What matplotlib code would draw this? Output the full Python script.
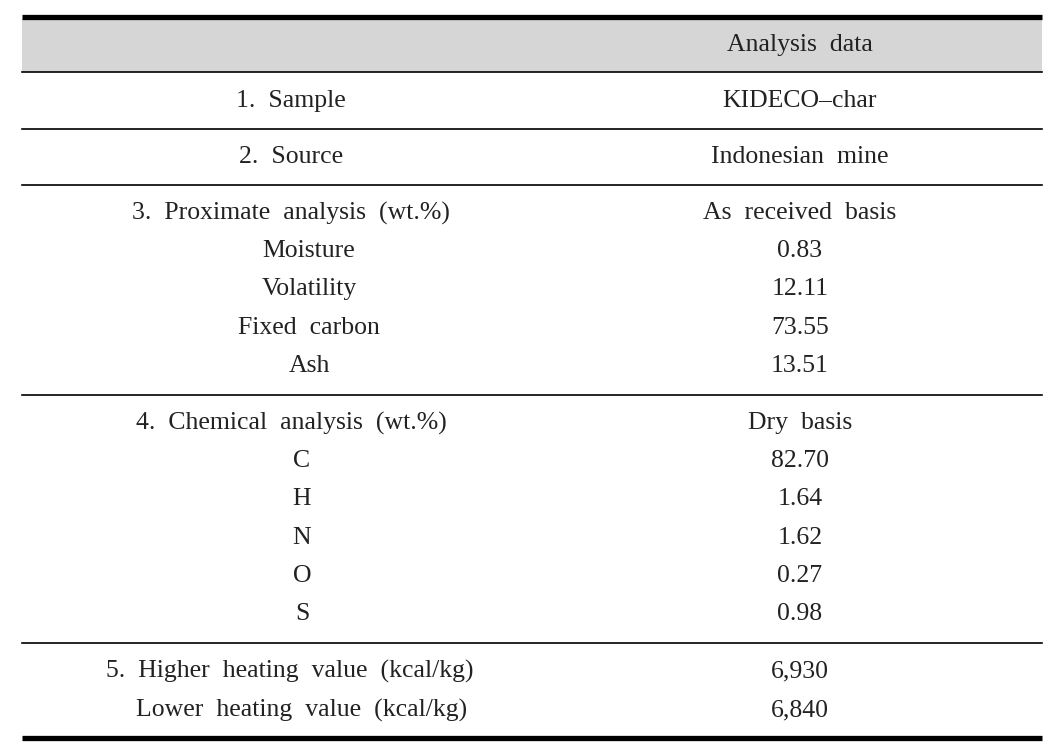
import matplotlib
matplotlib.use("Agg")
import matplotlib.pyplot as plt
from matplotlib.patches import Rectangle

plt.rcParams["font.family"] = ["Liberation Serif", "DejaVu Serif"]

# Table content
HEADER = "Analysis  data"
GROUP_TITLES = [
    "1.  Sample",
    "2.  Source",
    "3.  Proximate  analysis  (wt.%)",
    "4.  Chemical  analysis  (wt.%)",
    "5.  Higher  heating  value  (kcal/kg)",
]
GROUP_VALUES = [
    "KIDECO\u2013char",
    "Indonesian  mine",
    "As  received  basis",
    "Dry  basis",
    "6,930",
]
PROX_ITEMS = ["Moisture", "Volatility", "Fixed  carbon", "Ash"]
PROX_VALUES = ["0.83", "12.11", "73.55", "13.51"]
CHEM_ITEMS = ["C", "H", "N", "O", "S"]
CHEM_VALUES = ["82.70", "1.64", "1.62", "0.27", "0.98"]
LHV_ITEM = "Lower  heating  value  (kcal/kg)"
LHV_VALUE = "6,840"

W, H = 1048, 754
fig = plt.figure(figsize=(W / 100, H / 100), dpi=100)
ax = fig.add_axes([0, 0, 1, 1])
ax.set_xlim(0, W)
ax.set_ylim(H, 0)
ax.axis("off")

X0, X1 = 22, 1042
XL, XR = 300, 800
FS = 18.5
TC = "#222222"

# header band and rules
ax.add_patch(Rectangle((X0, 18), X1 - X0, 54, color="#d6d6d6", lw=0))
ax.plot([X0, X1], [16.5, 16.5], color="black", lw=3.8, solid_capstyle="butt")
ax.plot([X0, X1], [738, 738], color="black", lw=3.8, solid_capstyle="butt")
for y in [72, 129, 185, 395, 643]:
    ax.plot([X0, X1], [y, y], color="black", lw=1.2)

def txt(x, y, s):
    ax.text(x, y + 2, s, ha="center", va="center", fontsize=FS, color=TC)

txt(XR, 43, HEADER)

# single-line groups
txt(XL - 9, 99, GROUP_TITLES[0]); txt(XR, 99, GROUP_VALUES[0])
txt(XL - 9, 155, GROUP_TITLES[1]); txt(XR, 155, GROUP_VALUES[1])

# proximate analysis
txt(XL - 9, 211, GROUP_TITLES[2]); txt(XR, 211, GROUP_VALUES[2])
for i, (name, val) in enumerate(zip(PROX_ITEMS, PROX_VALUES)):
    y = 249 + i * 38.4
    txt(XL + 9, y, name)
    txt(XR, y, val)

# chemical analysis
txt(XL - 9, 421, GROUP_TITLES[3]); txt(XR, 421, GROUP_VALUES[3])
for i, (name, val) in enumerate(zip(CHEM_ITEMS, CHEM_VALUES)):
    y = 459 + i * 38.3
    txt(XL + 2, y, name)
    txt(XR, y, val)

# heating values
txt(XL - 10, 669, GROUP_TITLES[4]); txt(XR, 669, GROUP_VALUES[4])
txt(XL + 2, 708, LHV_ITEM); txt(XR, 708, LHV_VALUE)

fig.savefig("out.png", dpi=100)
